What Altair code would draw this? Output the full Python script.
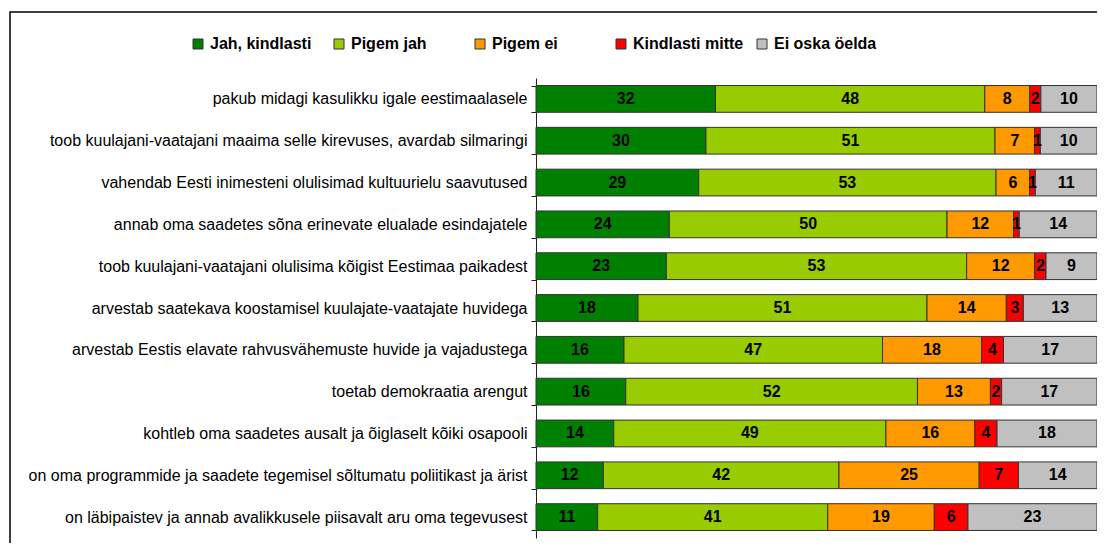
import altair as alt
import pandas as pd

statements = [
    "pakub midagi kasulikku igale eestimaalasele",
    "toob kuulajani-vaatajani maaima selle kirevuses, avardab silmaringi",
    "vahendab Eesti inimesteni olulisimad kultuurielu saavutused",
    "annab oma saadetes sõna erinevate elualade esindajatele",
    "toob kuulajani-vaatajani olulisima kõigist Eestimaa paikadest",
    "arvestab saatekava koostamisel kuulajate-vaatajate huvidega",
    "arvestab Eestis elavate rahvusvähemuste huvide ja vajadustega",
    "toetab demokraatia arengut",
    "kohtleb oma saadetes ausalt ja õiglaselt kõiki osapooli",
    "on oma programmide ja saadete tegemisel sõltumatu poliitikast ja ärist",
    "on läbipaistev ja annab avalikkusele piisavalt aru oma tegevusest",
]
answers = ["Jah, kindlasti", "Pigem jah", "Pigem ei", "Kindlasti mitte", "Ei oska öelda"]
colors = ["#008000", "#99CC00", "#FF9900", "#FF0000", "#C0C0C0"]

jah_kindlasti = [32, 30, 29, 24, 23, 18, 16, 16, 14, 12, 11]
pigem_jah = [48, 51, 53, 50, 53, 51, 47, 52, 49, 42, 41]
pigem_ei = [8, 7, 6, 12, 12, 14, 18, 13, 16, 25, 19]
kindlasti_mitte = [2, 1, 1, 1, 2, 3, 4, 2, 4, 7, 6]
ei_oska = [10, 10, 11, 14, 9, 13, 17, 17, 18, 14, 23]

series = [jah_kindlasti, pigem_jah, pigem_ei, kindlasti_mitte, ei_oska]
rows = []
for i, s in enumerate(statements):
    for k, (a, vals) in enumerate(zip(answers, series)):
        rows.append({"statement": s, "answer": a, "order": k, "value": vals[i]})
df = pd.DataFrame(rows)

FONT = "Liberation Sans"

base = alt.Chart(df).transform_stack(
    stack="value",
    groupby=["statement"],
    as_=["x0", "x1"],
    offset="normalize",
    sort=[alt.SortField("order", order="ascending")],
).transform_calculate(mid="(datum.x0 + datum.x1) / 2")

y_enc = alt.Y(
    "statement:N",
    sort=statements,
    scale=alt.Scale(paddingInner=0.36, paddingOuter=0.18),
    axis=alt.Axis(
        title=None,
        labelFont=FONT,
        labelFontSize=16,
        labelColor="#000000",
        labelLimit=700,
        labelPadding=4,
        tickBand="extent",
        tickSize=5,
        tickWidth=1,
        tickColor="#222222",
        domainColor="#222222",
        domainWidth=1,
    ),
)

bars = base.mark_bar(stroke="#333333", strokeWidth=1).encode(
    y=y_enc,
    x=alt.X("x0:Q", axis=None, scale=alt.Scale(domain=[0, 1], nice=False)),
    x2="x1:Q",
    color=alt.Color(
        "answer:N",
        scale=alt.Scale(domain=answers, range=colors),
        sort=answers,
        legend=alt.Legend(
            title=None,
            orient="none",
            legendX=-346,
            legendY=-42,
            direction="horizontal",
            columns=5,
            gridAlign="all",
            columnPadding=10,
            symbolType="square",
            symbolSize=100,
            symbolStrokeColor="#333333",
            symbolStrokeWidth=1,
            labelFont=FONT,
            labelFontSize=16,
            labelFontWeight="bold",
            labelColor="#000000",
            labelOffset=4,
            labelLimit=300,
        ),
    ),
    order=alt.Order("order:Q"),
)

labels = base.mark_text(
    font=FONT, fontSize=16, fontWeight="bold", color="#000000", baseline="middle", align="center"
).encode(
    y=alt.Y("statement:N", sort=statements),
    x=alt.X("mid:Q"),
    text=alt.Text("value:Q"),
)

frame = alt.Chart(pd.DataFrame({"f": [0]})).mark_rect(
    fillOpacity=0, stroke="#000000", strokeWidth=1.5
).encode(
    x=alt.value(-526), x2=alt.value(700), y=alt.value(-66), y2=alt.value(700)
)

chart = alt.layer(frame, bars, labels).properties(
    width=561,
    height=460,
    autosize=alt.AutoSizeParams(type="none"),
    padding={"left": 528, "top": 70, "right": 0, "bottom": 5},
).configure_view(stroke=None)

chart.save("out.html", embed_options={"renderer": "svg", "actions": False})
